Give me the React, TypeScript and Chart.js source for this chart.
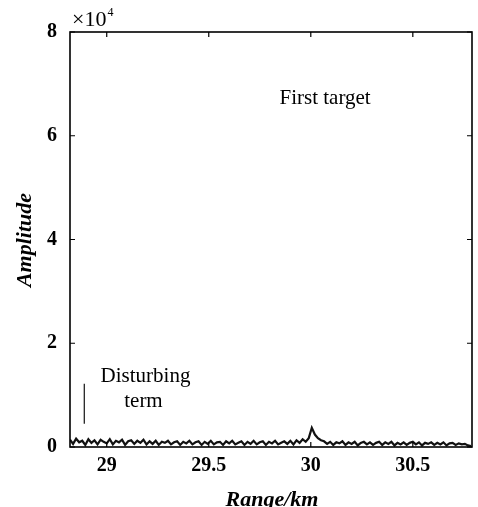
import React, { useEffect, useRef } from "react";
import { Chart, registerables } from "chart.js";

Chart.register(...registerables);

// Range axis: first sample and spacing (km)
const rangeStartKm = 28.82;
const rangeStepKm = 0.015;

// Echo amplitude (×10^4) along range
const amplitude: number[] = [
  0.14, 0.06, 0.16, 0.09, 0.12, 0.04, 0.15, 0.08, 0.13, 0.05,
  0.14, 0.10, 0.07, 0.15, 0.05, 0.12, 0.09, 0.14, 0.04, 0.11,
  0.13, 0.06, 0.12, 0.08, 0.14, 0.05, 0.11, 0.06, 0.12, 0.04,
  0.10, 0.08, 0.12, 0.05, 0.09, 0.11, 0.04, 0.10, 0.07, 0.12,
  0.05, 0.09, 0.11, 0.04, 0.10, 0.06, 0.12, 0.05, 0.09, 0.10,
  0.04, 0.11, 0.07, 0.12, 0.05, 0.08, 0.11, 0.04, 0.10, 0.06,
  0.12, 0.05, 0.09, 0.11, 0.04, 0.10, 0.07, 0.12, 0.05, 0.08,
  0.11, 0.06, 0.12, 0.05, 0.13, 0.08, 0.15, 0.10, 0.17, 0.37,
  0.24, 0.17, 0.13, 0.11, 0.06, 0.10, 0.04, 0.09, 0.07, 0.11,
  0.04, 0.09, 0.06, 0.10, 0.03, 0.08, 0.10, 0.05, 0.09, 0.04,
  0.08, 0.10, 0.04, 0.09, 0.06, 0.10, 0.03, 0.08, 0.05, 0.09,
  0.04, 0.08, 0.10, 0.05, 0.09, 0.03, 0.08, 0.06, 0.09, 0.04,
  0.08, 0.05, 0.09, 0.03, 0.07, 0.08, 0.04, 0.07, 0.05, 0.06,
  0.03, 0.02,
];

// Marker for the disturbing term
const disturbRangeKm = 28.89;
const disturbSpan: number[] = [0.45, 1.22];

// Axis extents and ticks
const rangeMin = 28.82;
const rangeMax = 30.79;
const rangeTicks: number[] = [29, 29.5, 30, 30.5];
const ampMin = 0;
const ampMax = 8;
const ampTicks: number[] = [0, 2, 4, 6, 8];

// Text notes placed in data coordinates
const notes: { text: string; x: number; y: number }[] = [
  { text: "First target", x: 30.07, y: 6.72 },
  { text: "Disturbing", x: 29.19, y: 1.36 },
  { text: "term", x: 29.18, y: 0.88 },
];

const SERIF = '"Liberation Serif", "Times New Roman", serif';

const framePlugin = {
  id: "frame",
  afterDraw(chart: any) {
    const { ctx, chartArea: a, scales } = chart;
    const xs = scales.x;
    const ys = scales.y;
    ctx.save();
    ctx.strokeStyle = "#000";
    ctx.lineWidth = 1.6;
    ctx.strokeRect(a.left, a.top, a.right - a.left, a.bottom - a.top);

    // inward ticks on all four sides
    ctx.lineWidth = 1.2;
    const tl = 5;
    rangeTicks.forEach((v) => {
      const px = xs.getPixelForValue(v);
      ctx.beginPath();
      ctx.moveTo(px, a.bottom);
      ctx.lineTo(px, a.bottom - tl);
      ctx.moveTo(px, a.top);
      ctx.lineTo(px, a.top + tl);
      ctx.stroke();
    });
    ampTicks.forEach((v) => {
      const py = ys.getPixelForValue(v);
      ctx.beginPath();
      ctx.moveTo(a.left, py);
      ctx.lineTo(a.left + tl, py);
      ctx.moveTo(a.right, py);
      ctx.lineTo(a.right - tl, py);
      ctx.stroke();
    });

    ctx.fillStyle = "#000";
    // notes
    ctx.font = `21px ${SERIF}`;
    ctx.textAlign = "center";
    ctx.textBaseline = "middle";
    notes.forEach((n) => {
      ctx.fillText(n.text, xs.getPixelForValue(n.x), ys.getPixelForValue(n.y));
    });

    // exponent label
    ctx.textAlign = "left";
    ctx.textBaseline = "alphabetic";
    ctx.font = `22px ${SERIF}`;
    ctx.fillText("\u00d710", a.left + 2, a.top - 6);
    const w = ctx.measureText("\u00d710").width;
    ctx.font = `12px ${SERIF}`;
    ctx.fillText("4", a.left + 3 + w, a.top - 16);

    // axis titles
    ctx.font = `italic bold 22px ${SERIF}`;
    ctx.textAlign = "center";
    ctx.textBaseline = "middle";
    ctx.fillText("Range/km", 272, 500);
    ctx.save();
    ctx.translate(25, 240);
    ctx.rotate(-Math.PI / 2);
    ctx.fillText("Amplitude", 0, 0);
    ctx.restore();
    ctx.restore();
  },
};

export default function App() {
  const ref = useRef<HTMLCanvasElement | null>(null);

  useEffect(() => {
    document.body.style.margin = "0";
    const canvas = ref.current;
    if (!canvas) return;

    const echo = amplitude.map((y, i) => ({ x: rangeStartKm + i * rangeStepKm, y }));
    const marker = disturbSpan.map((y) => ({ x: disturbRangeKm, y }));

    const chart = new Chart(canvas, {
      type: "line",
      data: {
        datasets: [
          {
            data: echo,
            borderColor: "#111",
            borderWidth: 2.2,
            pointRadius: 0,
            tension: 0,
          },
          {
            data: marker,
            borderColor: "#111",
            borderWidth: 1.2,
            pointRadius: 0,
          },
        ],
      },
      options: {
        responsive: false,
        animation: false,
        events: [],
        layout: { padding: { top: 32, right: 6, left: 0, bottom: 0 } },
        plugins: { legend: { display: false }, tooltip: { enabled: false } },
        scales: {
          x: {
            type: "linear",
            min: rangeMin,
            max: rangeMax,
            afterBuildTicks: (s: any) => {
              s.ticks = rangeTicks.map((value) => ({ value }));
            },
            afterFit: (s: any) => {
              s.height = 60;
            },
            grid: { display: false, drawTicks: false },
            border: { display: false },
            ticks: {
              padding: 7,
              color: "#000",
              font: { family: SERIF, size: 20, weight: "bold" },
              callback: (v: any) => String(v),
            },
          },
          y: {
            type: "linear",
            min: ampMin,
            max: ampMax,
            afterBuildTicks: (s: any) => {
              s.ticks = ampTicks.map((value) => ({ value }));
            },
            afterFit: (s: any) => {
              s.width = 70;
            },
            grid: { display: false, drawTicks: false },
            border: { display: false },
            ticks: {
              padding: 13,
              color: "#000",
              font: { family: SERIF, size: 20, weight: "bold" },
              callback: (v: any) => String(v),
            },
          },
        },
      },
      plugins: [framePlugin],
    });

    return () => chart.destroy();
  }, []);

  return <canvas ref={ref} width={478} height={507} style={{ display: "block" }} />;
}
